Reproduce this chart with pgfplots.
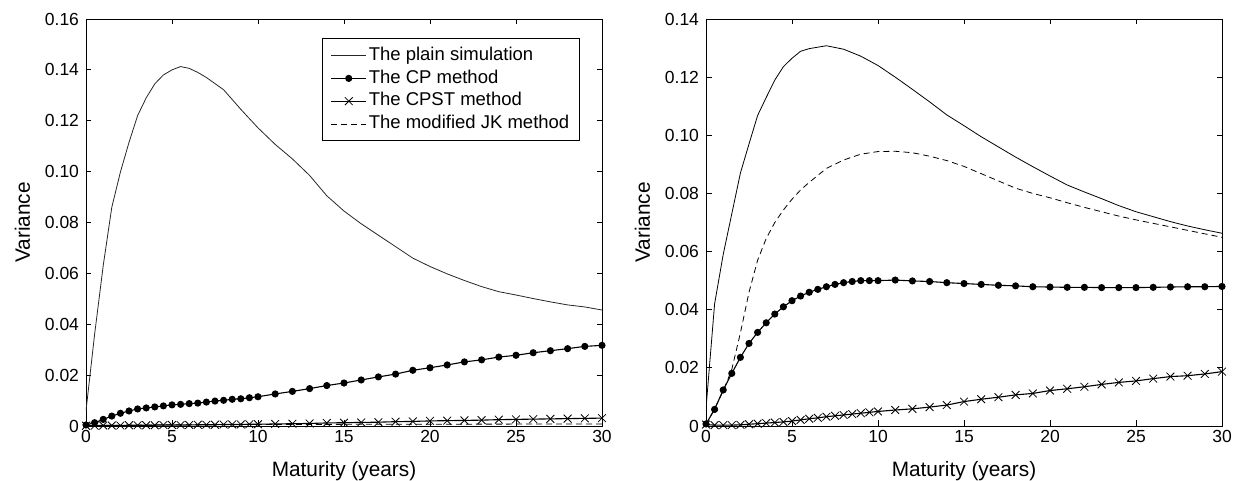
\documentclass[border=0pt]{standalone}
\usepackage{fontspec}
\setmainfont{Liberation Sans}
\usepackage{pgfplots}
\pgfplotsset{compat=1.18}
\pgfplotsset{
  myaxis/.style={
    width=516pt, height=407pt, scale only axis,
    xmin=0, xmax=30, ymin=0,
    xtick={0,5,10,15,20,25,30},
    tick align=inside, xtick pos=both, ytick pos=both,
    major tick length=5.5pt,
    axis line style={line width=0.9pt},
    every tick/.style={line width=0.8pt, black},
    /pgf/number format/assume math mode=true,
    tick label style={font=\fontsize{17.5}{20}\selectfont},
    xticklabel style={yshift=-1pt},
    yticklabel style={xshift=-3.5pt},
    label style={font=\fontsize{20.8}{24}\selectfont},
    xlabel={Maturity (years)},
    ylabel={Variance},
    xlabel style={at={(axis description cs:0.5,-0.1246)}, anchor=base},
    ylabel style={at={(axis description cs:-0.1087,0.5)}, anchor=base, rotate=0},
    clip=true,
    legend image code/.code={\draw[mark repeat=2,mark phase=2,#1] plot coordinates {(0pt,0pt)(17.5pt,0pt)(35pt,0pt)};},
  },
  plainsim/.style={black!85, line width=0.8pt, mark=none},
  cpm/.style={black, line width=1.1pt, mark=*, mark size=3pt, mark options={solid}},
  cpst/.style={black, line width=1.1pt, mark=x, mark size=5.5pt, mark options={solid, line width=0.8pt}},
  jkm/.style={black, line width=0.8pt, mark=none, dash pattern=on 6pt off 4pt},
}
\begin{document}
\begin{tikzpicture}
\begin{axis}[myaxis, ymax=0.16,
  ytick={0,0.02,0.04,0.06,0.08,0.10,0.12,0.14,0.16},
  yticklabels={0,0.02,0.04,0.06,0.08,0.10,0.12,0.14,0.16},
  legend style={at={(rel axis cs:0.9578,0.9526)}, anchor=north east,
    font=\fontsize{18.5}{22}\selectfont, draw=black, line width=0.8pt,
    inner xsep=8.5pt, inner ysep=5.5pt, row sep=0pt,
    nodes={inner ysep=2.75pt, inner xsep=2pt, text height=13.3pt, text depth=4pt}},
  legend cell align=left]
\addplot[plainsim] coordinates {
(0,0.006)(0.5,0.036)(1,0.063)(1.5,0.086)(2,0.0998)(2.5,0.1115)(3,0.122)(3.5,0.129)
(4,0.1345)(4.5,0.138)(5,0.140)(5.5,0.1413)(6,0.1406)(6.5,0.139)(7,0.137)(8,0.1322)
(9,0.1245)(10,0.1172)(11,0.1107)(12,0.105)(13,0.0985)(14,0.0905)(15,0.0845)(16,0.0795)
(17,0.075)(18,0.0705)(19,0.066)(20,0.0627)(21,0.0598)(22,0.0572)(23,0.0548)(24,0.0528)
(25,0.0515)(26,0.0501)(27,0.0488)(28,0.0476)(29,0.0468)(30,0.0456)};
\addlegendentry{The plain simulation}
\addplot[cpm] coordinates {
(0,0.0004)(0.5,0.0013)(1,0.0026)(1.5,0.0039)(2,0.005)(2.5,0.0059)(3,0.0067)(3.5,0.0071)
(4,0.0075)(4.5,0.0079)(5,0.0083)(5.5,0.0085)(6,0.0088)(6.5,0.009)(7,0.0094)(7.5,0.0098)
(8,0.0101)(8.5,0.0105)(9,0.0107)(9.5,0.0111)(10,0.0115)(11,0.0126)(12,0.0136)(13,0.0147)
(14,0.0159)(15,0.0169)(16,0.0181)(17,0.0193)(18,0.0204)(19,0.0219)(20,0.0229)(21,0.024)
(22,0.0252)(23,0.026)(24,0.0271)(25,0.0278)(26,0.0288)(27,0.0296)(28,0.0304)(29,0.0313)(30,0.0317)};
\addlegendentry{The CP method}
\addplot[cpst] coordinates {
(0,0.0001)(0.5,0.0001)(1,0.0002)(1.5,0.0002)(2,0.0002)(2.5,0.0003)(3,0.0003)(3.5,0.0003)
(4,0.0003)(4.5,0.0004)(5,0.0004)(5.5,0.0004)(6,0.0004)(6.5,0.0005)(7,0.0005)(7.5,0.0005)
(8,0.0006)(8.5,0.0006)(9,0.0006)(9.5,0.0007)(10,0.0007)(11,0.0008)(12,0.0009)(13,0.001)
(14,0.0012)(15,0.0013)(16,0.0014)(17,0.0015)(18,0.0017)(19,0.0018)(20,0.002)(21,0.0021)
(22,0.0022)(23,0.0023)(24,0.0025)(25,0.0026)(26,0.0027)(27,0.0028)(28,0.0029)(29,0.003)(30,0.0031)};
\addlegendentry{The CPST method}
\addplot[jkm] coordinates {(0,0.0002)(5,0.0005)(10,0.0006)(20,0.0007)(30,0.0008)};
\addlegendentry{The modified JK method}
\end{axis}
\begin{axis}[myaxis, at={(620pt,0pt)}, ymax=0.14,
  ytick={0,0.02,0.04,0.06,0.08,0.10,0.12,0.14},
  yticklabels={0,0.02,0.04,0.06,0.08,0.10,0.12,0.14}]
\addplot[plainsim, black] coordinates {
(0,0.006)(0.5,0.042)(1,0.059)(1.5,0.073)(2,0.087)(2.5,0.097)(3,0.1068)(3.5,0.113)
(4,0.119)(4.5,0.1236)(5,0.1265)(5.5,0.1289)(6,0.1298)(7,0.1308)(8,0.1296)(9,0.1272)
(10,0.124)(11,0.120)(12,0.1158)(13,0.1115)(14,0.107)(15,0.1033)(16,0.0995)(17,0.096)
(18,0.0925)(19,0.0892)(20,0.086)(21,0.0829)(22,0.0805)(23,0.0782)(24,0.0758)(25,0.0737)
(26,0.072)(27,0.0703)(28,0.0688)(29,0.0675)(30,0.0663)};
\addplot[cpm] coordinates {
(0,0.0007)(0.5,0.0057)(1,0.0124)(1.5,0.0181)(2,0.0236)(2.5,0.0284)(3,0.0322)(3.5,0.0355)
(4,0.0385)(4.5,0.041)(5,0.0431)(5.5,0.0447)(6,0.046)(6.5,0.047)(7,0.0479)(7.5,0.0487)
(8,0.0493)(8.5,0.0497)(9,0.05)(9.5,0.05)(10,0.05)(11,0.0502)(12,0.0499)(13,0.0497)
(14,0.0493)(15,0.049)(16,0.0487)(17,0.0484)(18,0.0482)(19,0.0479)(20,0.0478)(21,0.0477)
(22,0.0477)(23,0.0476)(24,0.0476)(25,0.0476)(26,0.0477)(27,0.0478)(28,0.0479)(29,0.0479)(30,0.048)};
\addplot[cpst] coordinates {
(0,0.0005)(0.5,0.0003)(1,0.0003)(1.5,0.0003)(2,0.0004)(2.5,0.0006)(3,0.0008)(3.5,0.001)
(4,0.0012)(4.5,0.0014)(5,0.0017)(5.5,0.0021)(6,0.0025)(6.5,0.0028)(7,0.0032)(7.5,0.0035)
(8,0.0038)(8.5,0.0041)(9,0.0044)(9.5,0.0047)(10,0.005)(11,0.0055)(12,0.0059)(13,0.0065)
(14,0.0072)(15,0.0084)(16,0.0092)(17,0.0099)(18,0.0107)(19,0.0112)(20,0.0122)(21,0.0128)
(22,0.0135)(23,0.0143)(24,0.015)(25,0.0155)(26,0.0163)(27,0.017)(28,0.0173)(29,0.0179)(30,0.0187)};
\addplot[jkm] coordinates {
(0,0.0005)(0.5,0.006)(1,0.012)(1.5,0.0195)(2,0.032)(2.5,0.046)(3,0.057)(3.5,0.0645)
(4,0.070)(4.5,0.0743)(5,0.078)(5.5,0.0812)(6,0.0838)(7,0.0886)(8,0.0915)(9,0.0935)
(10,0.0944)(11,0.0945)(12,0.094)(13,0.0928)(14,0.0913)(15,0.0893)(16,0.0868)(17,0.0843)
(18,0.0818)(19,0.08)(20,0.0785)(21,0.0768)(22,0.0752)(23,0.0737)(24,0.0722)(25,0.0709)
(26,0.0697)(27,0.0685)(28,0.0673)(29,0.0661)(30,0.0649)};
\end{axis}
\pgfresetboundingbox
\path[use as bounding box] (-86pt,-55pt) rectangle (1148pt,426pt);
\end{tikzpicture}
\end{document}
